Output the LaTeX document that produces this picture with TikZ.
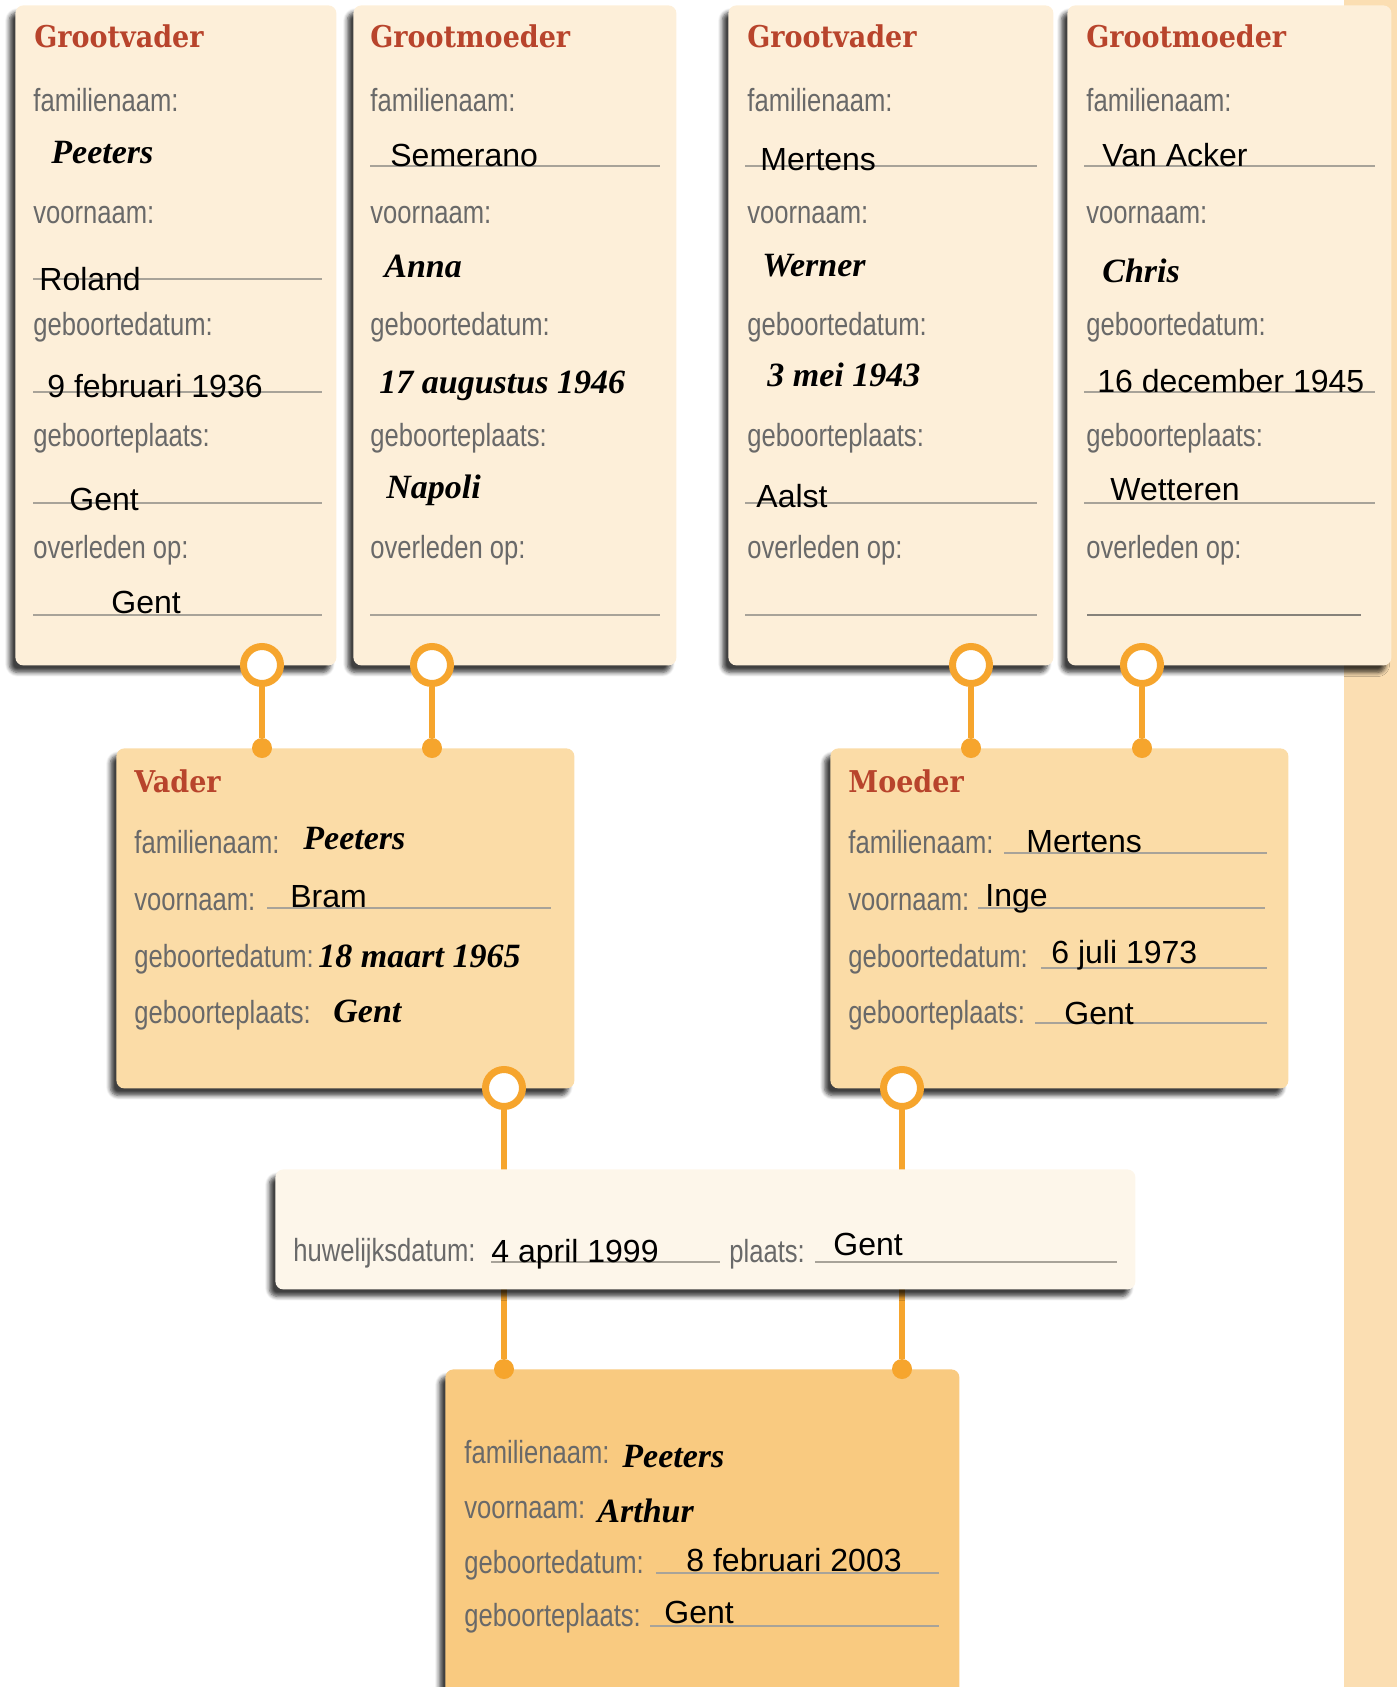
\documentclass[tikz,border=0pt]{standalone}
\usepackage{fontspec}
\setmainfont{Liberation Sans}
\newfontfamily\labelfont[FakeStretch=0.8]{Liberation Sans}
\newfontfamily\handfont{Liberation Serif}
\newfontfamily\titlefont[FakeStretch=0.9]{DejaVu Serif}
\usetikzlibrary{shadows.blur,backgrounds}
\definecolor{gpcream}{RGB}{253,239,217}
\definecolor{parentsand}{RGB}{251,220,167}
\definecolor{marriagecream}{RGB}{253,246,234}
\definecolor{childorange}{RGB}{249,202,128}
\definecolor{stripsand}{RGB}{251,222,178}
\definecolor{linkorange}{RGB}{246,165,45}
\definecolor{titlered}{RGB}{184,68,44}
\definecolor{labelgray}{RGB}{105,105,105}
\definecolor{rulegray}{RGB}{168,163,153}
\tikzstyle{Card}=[rectangle, rounded corners=4pt, anchor=north west, inner sep=0, blur shadow={shadow xshift=-3pt, shadow yshift=-3.5pt, shadow blur steps=6, shadow blur extra rounding=1pt, shadow opacity=75}]
\tikzstyle{GrandCard}=[Card, fill=gpcream, minimum height=330pt]
\tikzstyle{ParentCard}=[Card, fill=parentsand, minimum width=229pt, minimum height=170pt]
\tikzstyle{Ring}=[circle, draw=linkorange, line width=3.5pt, fill=white, minimum size=18.5pt, inner sep=0]
\tikzstyle{Dot}=[circle, fill=linkorange, minimum size=10pt, inner sep=0]
\tikzstyle{Link}=[draw=linkorange, line width=3pt]
\tikzstyle{Rule}=[draw=rulegray, line width=0.7pt]
\tikzstyle{Title}=[anchor=base west, inner sep=0, text=titlered, font=\titlefont\bfseries\fontsize{15}{17}\selectfont]
\tikzstyle{Label}=[anchor=base west, inner sep=0, text=labelgray, font=\labelfont\fontsize{16}{18}\selectfont]
\tikzstyle{Value}=[anchor=base west, inner sep=0, font=\fontsize{16}{18}\selectfont]
\tikzstyle{Hand}=[anchor=base west, inner sep=0, font=\handfont\bfseries\itshape\fontsize{17}{19}\selectfont]

\begin{document}
\begin{tikzpicture}[x=0.5pt, y=-0.5pt]
    \useasboundingbox (0,0) rectangle (1397,1687);
    \fill[stripsand] (1344,0) rectangle (1397,1687);

    % grandparents
    \path
    (15,5) node[GrandCard, minimum width=160.5pt] (gv1) {}
    (353,5) node[GrandCard, minimum width=161.5pt] (gm1) {}
    (728,5) node[GrandCard, minimum width=162.5pt] (gv2) {}
    (1067,5) node[GrandCard, minimum width=162pt] (gm2) {};

    % parents, marriage, child
    \path
    (116,748) node[ParentCard] (vader) {}
    (830,748) node[ParentCard] (moeder) {}
    (275,1169) node[Card, fill=marriagecream, minimum width=430pt, minimum height=60pt] (huwelijk) {}
    (445,1369) node[Card, fill=childorange, minimum width=257pt, minimum height=175pt] (kind) {};

    % lines to write on
    \draw[Rule] (33,279) -- (322,279) (33,392) -- (322,392) (33,503) -- (322,503) (33,615) -- (322,615);
    \draw[Rule] (370,166) -- (660,166) (370,615) -- (660,615);
    \draw[Rule] (745,166) -- (1037,166) (745,503) -- (1037,503) (745,615) -- (1037,615);
    \draw[Rule] (1084,166) -- (1375,166) (1084,392) -- (1375,392) (1084,503) -- (1375,503);
    \draw[Rule, line width=1.3pt, draw=rulegray!80!black] (1087,615) -- (1361,615);
    \draw[Rule] (267,908) -- (551,908);
    \draw[Rule] (1004,853) -- (1267,853) (978,908) -- (1265,908) (1041,968) -- (1267,968) (1035,1023) -- (1267,1023);
    \draw[Rule] (491,1262) -- (720,1262) (815,1262) -- (1117,1262);
    \draw[Rule] (656,1573) -- (939,1573) (650,1626) -- (939,1626);

    % titles and labels
    \path
    (34,47) node[Title] (tgv1) {Grootvader}
    (370,47) node[Title] (tgm1) {Grootmoeder}
    (747,47) node[Title] (tgv2) {Grootvader}
    (1086,47) node[Title] (tgm2) {Grootmoeder}
    (134,792) node[Title] (tvader) {Vader}
    (848,792) node[Title] (tmoeder) {Moeder};
    \foreach \cx/\cn in {33/a, 370/b, 747/c, 1086/d}
      \foreach \lab/\ly [count=\i] in {familienaam:/111, voornaam:/223, geboortedatum:/335, geboorteplaats:/446, overleden op:/558}
        \node[Label] (lab\cn\i) at (\cx,\ly) {\lab};
    \foreach \cx/\cn in {134/v, 848/m}
      \foreach \lab/\ly [count=\i] in {familienaam:/853, voornaam:/910, geboortedatum:/967, geboorteplaats:/1023}
        \node[Label] (lab\cn\i) at (\cx,\ly) {\lab};
    \foreach \lab/\ly [count=\i] in {familienaam:/1463, voornaam:/1518, geboortedatum:/1573, geboorteplaats:/1626}
      \node[Label] (labk\i) at (464,\ly) {\lab};
    \path
    (293,1261) node[Label] (labhd) {huwelijksdatum:}
    (729,1262) node[Label] (labhp) {plaats:};

    % filled in
    \path
    (51,163) node[Hand] {Peeters}
    (39,290) node[Value] {Roland}
    (47,397) node[Value] {9 februari 1936}
    (69,510) node[Value] {Gent}
    (111,613) node[Value] {Gent};
    \path
    (390,166) node[Value] {Semerano}
    (384,277) node[Hand] {Anna}
    (379,393) node[Hand] {17 augustus 1946}
    (386,498) node[Hand] {Napoli};
    \path
    (760,170) node[Value] {Mertens}
    (762,276) node[Hand] {Werner}
    (767,386) node[Hand] {3 mei 1943}
    (756,507) node[Value] {Aalst};
    \path
    (1102,166) node[Value] {Van Acker}
    (1102,282) node[Hand] {Chris}
    (1097,392) node[Value] {16 december 1945}
    (1110,500) node[Value] {Wetteren};
    \path
    (303,849) node[Hand] {Peeters}
    (290,907) node[Value] {Bram}
    (318,967) node[Hand] {18 maart 1965}
    (333,1022) node[Hand] {Gent};
    \path
    (1026,852) node[Value] {Mertens}
    (985,906) node[Value] {Inge}
    (1051,963) node[Value] {6 juli 1973}
    (1064,1024) node[Value] {Gent};
    \path
    (491,1262) node[Value] {4 april 1999}
    (833,1255) node[Value] {Gent};
    \path
    (622,1467) node[Hand] {Peeters}
    (597,1522) node[Hand] {Arthur}
    (686,1571) node[Value] {8 februari 2003}
    (664,1623) node[Value] {Gent};

    % rings and dots
    \path
    (262,665) node[Ring] (r1) {}
    (432,665) node[Ring] (r2) {}
    (971,665) node[Ring] (r3) {}
    (1142,665) node[Ring] (r4) {}
    (504,1088) node[Ring] (r5) {}
    (902,1088) node[Ring] (r6) {};
    \path
    (262,748) node[Dot] (d1) {}
    (432,748) node[Dot] (d2) {}
    (971,748) node[Dot] (d3) {}
    (1142,748) node[Dot] (d4) {}
    (504,1369) node[Dot] (d5) {}
    (902,1369) node[Dot] (d6) {};

    \begin{scope}[on background layer]
    \draw[Link] (r1) -- (d1);
    \draw[Link] (r2) -- (d2);
    \draw[Link] (r3) -- (d3);
    \draw[Link] (r4) -- (d4);
    \draw[Link] (r5) -- (d5);
    \draw[Link] (r6) -- (d6);
    \end{scope}
\end{tikzpicture}
\end{document}
